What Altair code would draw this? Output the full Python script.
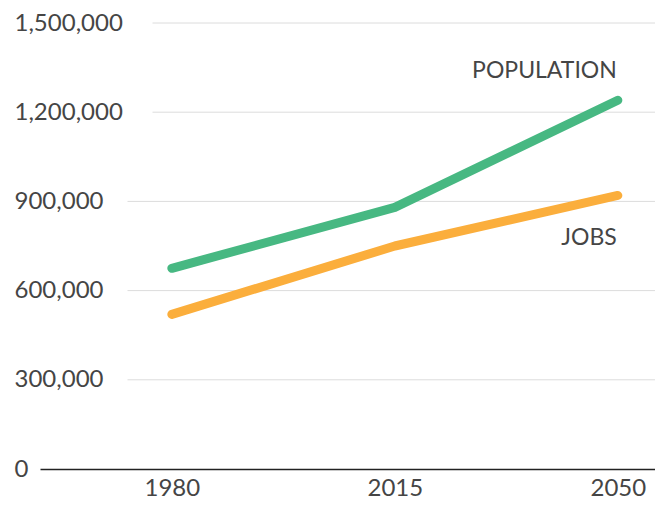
import altair as alt
import pandas as pd

years = ["1980", "2015", "2050"]
population = [675000, 880000, 1240000]
jobs = [520000, 750000, 920000]
y_ticks = [0, 300000, 600000, 900000, 1200000, 1500000]
series_names = ["POPULATION", "JOBS"]
colors = ["#47B882", "#FBAE3C"]

FONT = "Lato"
TEXT_COLOR = "#454545"
PLOT_W = 615
PLOT_H = 446

rows = []
for name, vals in zip(series_names, [population, jobs]):
    for yr, v in zip(years, vals):
        rows.append({"year": yr, "value": v, "series": name})
df = pd.DataFrame(rows)

grid_df = pd.DataFrame({"value": [t for t in y_ticks if t > 0]})

x_scale = alt.Scale(type="point", domain=years, padding=0.379, align=0.78)
y_scale = alt.Scale(domain=[0, 1500000], nice=False, zero=True)

x_axis = alt.Axis(
    title=None, ticks=False, labelAngle=0, labelFont=FONT, labelFontSize=24,
    labelColor=TEXT_COLOR, labelPadding=7, domainColor="#222222", domainWidth=1.6,
    grid=False,
)
y_axis = alt.Axis(
    title=None, values=y_ticks, format=",d", ticks=False, domain=False, grid=False,
    labelAlign="left", labelPadding=26, labelFont=FONT, labelFontSize=24,
    labelColor=TEXT_COLOR,
)

x_enc = alt.X("year:O", scale=x_scale, sort=years, axis=x_axis)
y_enc = alt.Y("value:Q", scale=y_scale, axis=y_axis)

grid = (
    alt.Chart(grid_df)
    .transform_calculate(gx="12.5 * length(format(datum.value, ',d'))")
    .mark_rule(color="#dcdcdc", strokeWidth=1)
    .encode(
        x=alt.X("gx:Q", scale=None),
        x2=alt.value(PLOT_W),
        y=y_enc,
    )
)

lines = (
    alt.Chart(df)
    .mark_line(strokeWidth=9, strokeCap="round", strokeJoin="round")
    .encode(
        x=x_enc,
        y=y_enc,
        color=alt.Color("series:N", scale=alt.Scale(domain=series_names, range=colors), legend=None),
        detail="series:N",
    )
)

label_df = pd.DataFrame({
    "year": [years[-1], years[-1]],
    "value": [population[-1], jobs[-1]],
    "series": series_names,
})

pop_label = (
    alt.Chart(label_df)
    .transform_filter(alt.datum.series == "POPULATION")
    .mark_text(align="right", baseline="middle", dx=-1, dy=-29, font=FONT, fontSize=23, color=TEXT_COLOR)
    .encode(x=x_enc, y=y_enc, text="series:N")
)
jobs_label = (
    alt.Chart(label_df)
    .transform_filter(alt.datum.series == "JOBS")
    .mark_text(align="right", baseline="middle", dx=-1, dy=43, font=FONT, fontSize=23, color=TEXT_COLOR)
    .encode(x=x_enc, y=y_enc, text="series:N")
)

chart = (
    alt.layer(grid, lines, pop_label, jobs_label)
    .properties(
        width=PLOT_W,
        height=PLOT_H,
        background="white",
        autosize=alt.AutoSizeParams(type="none"),
        padding={"left": 32, "top": 15, "right": 0, "bottom": 36},
    )
    .configure_view(strokeWidth=0, stroke="transparent")
)

chart.save("out.html", embed_options={"renderer": "svg", "actions": False})
